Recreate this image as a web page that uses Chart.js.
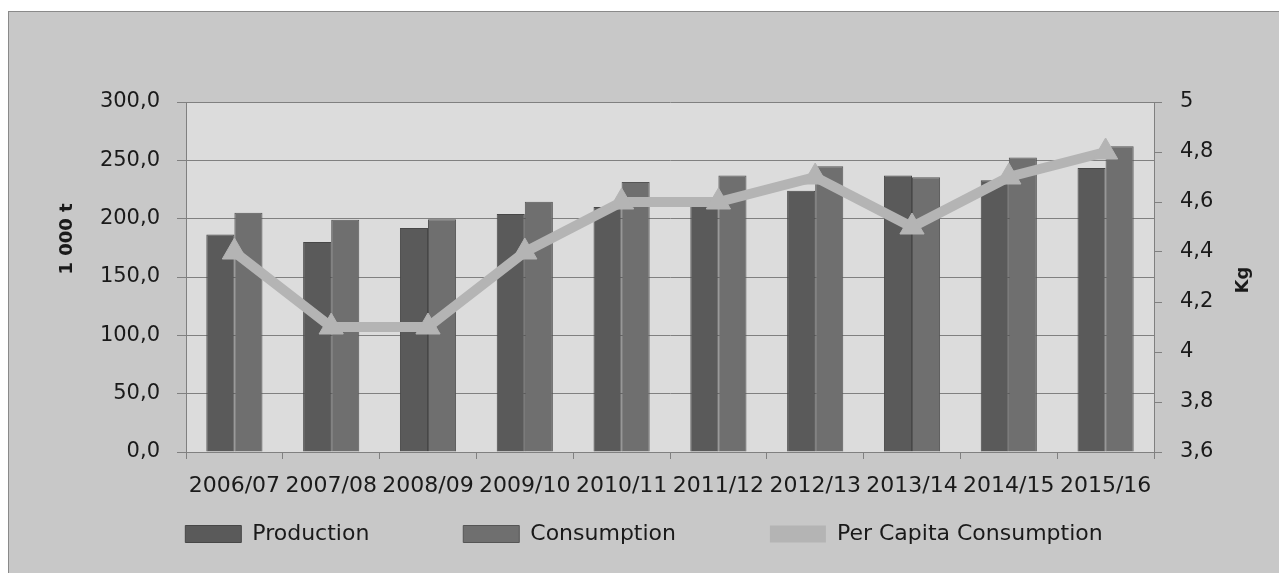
<!DOCTYPE html>
<html>
<head>
<meta charset="utf-8">
<script src="https://cdn.jsdelivr.net/npm/chart.js@4/dist/chart.umd.min.js"></script>
<style>
  html, body { margin: 0; padding: 0; background: #fff; overflow: hidden; }
  #box {
    position: absolute; left: 8px; top: 11px; width: 1271px; height: 562px;
    background: #c8c8c8; border-left: 1px solid #8a8a8a; border-top: 1px solid #8a8a8a;
  }
  #box canvas { display: block; }
</style>
</head>
<body>
<div id="box"><canvas id="grafico" width="1270" height="561"></canvas></div>
<script>
// datos
let temporadas = ['2006/07', '2007/08', '2008/09', '2009/10', '2010/11', '2011/12',
    '2012/13', '2013/14', '2014/15', '2015/16'];
let produccion = [186.5, 180, 192, 204, 210, 212, 224, 237, 233, 243.5];
let consumo = [205, 199, 199.5, 214.5, 231.5, 237, 245, 235.5, 252.5, 262];
let perCapita = [4.4, 4.1, 4.1, 4.4, 4.6, 4.6, 4.7, 4.5, 4.7, 4.8];

let fuente = 'DejaVu Sans';

// fondo gris del area de trazado y titulos de ejes
let extras = {
    id: 'extras',
    beforeDraw(chart) {
        let ctx = chart.ctx;
        let a = chart.chartArea;
        ctx.save();
        ctx.fillStyle = '#dcdcdc';
        ctx.fillRect(a.left, a.top, a.right - a.left, a.bottom - a.top);
        ctx.restore();
    },
    afterDraw(chart) {
        let ctx = chart.ctx;
        ctx.save();
        ctx.fillStyle = '#1a1a1a';
        ctx.font = 'bold 18px "' + fuente + '"';
        ctx.textAlign = 'center';
        ctx.textBaseline = 'middle';
        ctx.translate(58, 227);
        ctx.rotate(-Math.PI / 2);
        ctx.fillText('1 000 t', 0, 0);
        ctx.restore();
        ctx.save();
        ctx.fillStyle = '#1a1a1a';
        ctx.font = 'bold 18px "' + fuente + '"';
        ctx.textAlign = 'center';
        ctx.textBaseline = 'middle';
        ctx.translate(1234, 268);
        ctx.rotate(-Math.PI / 2);
        ctx.fillText('Kg', 0, 0);
        ctx.restore();
    }
};

let ctx = document.getElementById('grafico').getContext('2d');

let grafico = new Chart(ctx, {
    type: 'bar',
    data: {
        labels: temporadas,
        datasets: [{
                label: 'Production',
                data: produccion,
                backgroundColor: '#5a5a5a',
                borderColor: '#474747',
                borderWidth: 1,
                yAxisID: 'y',
                order: 1
            },
            {
                label: 'Consumption',
                data: consumo,
                backgroundColor: '#6f6f6f',
                borderColor: '#555555',
                borderWidth: 1,
                yAxisID: 'y',
                order: 1
            },
            {
                type: 'line',
                label: 'Per Capita Consumption',
                data: perCapita,
                borderColor: '#b4b4b4',
                backgroundColor: '#b4b4b4',
                borderWidth: 10,
                pointStyle: 'triangle',
                pointRadius: 14,
                pointBorderWidth: 1,
                yAxisID: 'y1',
                order: 0
            }
        ]
    },
    options: {
        responsive: false,
        animation: false,
        layout: {
            padding: { top: 90, bottom: 18, left: 0, right: 0 }
        },
        datasets: {
            bar: {
                categoryPercentage: 0.58,
                barPercentage: 1
            }
        },
        scales: {
            x: {
                offset: true,
                grid: {
                    offset: true,
                    drawOnChartArea: false,
                    drawTicks: true,
                    tickLength: 7,
                    color: '#808080'
                },
                border: { color: '#808080' },
                ticks: {
                    color: '#1a1a1a',
                    font: { family: fuente, size: 22 },
                    padding: 14,
                    maxRotation: 0,
                    autoSkip: false
                },
                afterFit(s) { s.height = 61; }
            },
            y: {
                position: 'left',
                min: 0,
                max: 300,
                ticks: {
                    stepSize: 50,
                    color: '#1a1a1a',
                    font: { family: fuente, size: 21 },
                    padding: 17,
                    callback: v => v.toFixed(1).replace('.', ',')
                },
                grid: {
                    color: '#808080',
                    tickLength: 9
                },
                border: { color: '#808080' },
                afterFit(s) { s.width = 177; }
            },
            y1: {
                position: 'right',
                min: 3.6,
                max: 5,
                ticks: {
                    stepSize: 0.2,
                    color: '#1a1a1a',
                    font: { family: fuente, size: 21 },
                    padding: 18,
                    callback: v => String(Math.round(v * 10) / 10).replace('.', ',')
                },
                grid: {
                    drawOnChartArea: false,
                    color: '#808080',
                    tickLength: 8
                },
                border: { color: '#808080' },
                afterFit(s) { s.width = 125; }
            }
        },
        plugins: {
            legend: {
                position: 'bottom',
                align: 'center',
                labels: {
                    color: '#1a1a1a',
                    font: { family: fuente, size: 22 },
                    boxWidth: 56,
                    boxHeight: 17,
                    padding: 10,
                    sort: (a, b) => a.datasetIndex - b.datasetIndex,
                    generateLabels(chart) {
                        let items = Chart.defaults.plugins.legend.labels.generateLabels(chart);
                        let relleno = [12, 12, 0];
                        items.forEach(it => {
                            let i = it.datasetIndex;
                            it.text = it.text + ' '.repeat(relleno[i]);
                            if (i === 2) {
                                it.fillStyle = '#b4b4b4';
                                it.strokeStyle = '#b4b4b4';
                                it.lineWidth = 0;
                            }
                        });
                        return items;
                    }
                }
            },
            tooltip: { enabled: false }
        }
    },
    plugins: [extras]
});
</script>
</body>
</html>
